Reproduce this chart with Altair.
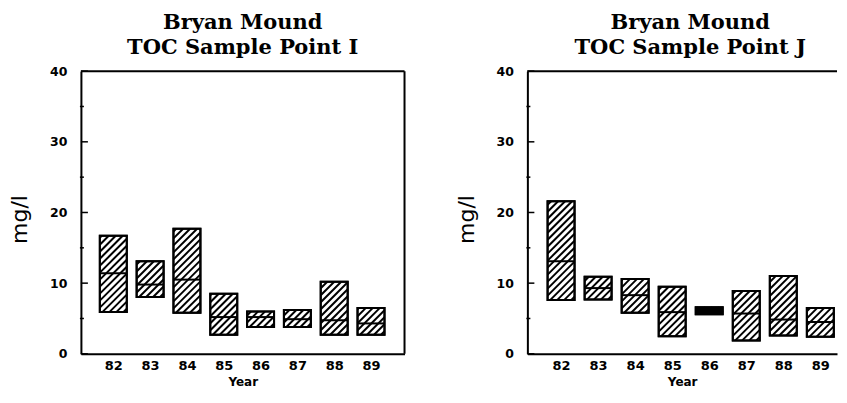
import altair as alt
import pandas as pd

years = [82, 83, 84, 85, 86, 87, 88, 89]

# Sample Point I
i_high = [16.7, 13.1, 17.7, 8.5, 6.0, 6.2, 10.2, 6.5]
i_med = [11.4, 9.8, 10.5, 5.2, 5.2, 4.9, 4.75, 4.3]
i_low = [5.9, 8.05, 5.8, 2.7, 3.8, 3.8, 2.7, 2.7]

# Sample Point J
j_high = [21.6, 10.9, 10.6, 9.5, 6.6, 8.9, 11.0, 6.5]
j_med = [13.1, 9.3, 8.3, 5.9, 6.1, 5.7, 4.85, 4.5]
j_low = [7.6, 7.7, 5.8, 2.5, 5.6, 1.9, 2.6, 2.4]

y_major = [0, 10, 20, 30, 40]
y_minor = [5, 15, 25, 35]

Y_DOMAIN = [0, 40]
PLOT_H = 283
BOX_PX = 27.0
HATCH_STEP = 7.0
LABEL_FONT = "DejaVu Sans"


def panel(title_lines, high, med, low, x_domain, width, title_dx, right_border):
    df = pd.DataFrame({"year": years, "low": low, "med": med, "high": high})
    kx = width / (x_domain[1] - x_domain[0])
    ky = PLOT_H / (Y_DOMAIN[1] - Y_DOMAIN[0])
    half = BOX_PX / 2 / kx

    xs = alt.Scale(domain=x_domain, nice=False, zero=False)
    ys = alt.Scale(domain=Y_DOMAIN, nice=False, zero=False)
    x_axis = alt.Axis(values=years, format="d", ticks=False, tickSize=0,
                      grid=False, domainColor="black", domainWidth=2,
                      labelFont=LABEL_FONT, labelFontWeight="bold",
                      labelFontSize=13, labelColor="black", labelPadding=6,
                      titleFont=LABEL_FONT, titleFontWeight="bold",
                      titleFontSize=12, titleColor="black", titlePadding=4)
    y_axis = alt.Axis(values=y_major, format="d", ticks=False, tickSize=0,
                      grid=False, domainColor="black", domainWidth=2,
                      labelFont=LABEL_FONT, labelFontWeight="bold",
                      labelFontSize=12.5, labelColor="black", labelPadding=14,
                      titleFont=LABEL_FONT, titleFontWeight="normal",
                      titleFontSize=22, titleColor="black", titlePadding=18,
                      titleY=148)

    base = alt.Chart(df).transform_calculate(
        xl=f"datum.year - {half}", xr=f"datum.year + {half}"
    )

    boxes = base.mark_rect(stroke="black", strokeWidth=2).encode(
        x=alt.X("xl:Q", scale=xs, axis=x_axis, title="Year"),
        x2="xr:Q",
        y=alt.Y("low:Q", scale=ys, axis=y_axis, title="mg/l"),
        y2="high:Q",
        fill=alt.condition(f"(datum.high - datum.low) * {ky} < 9",
                           alt.value("black"), alt.value("white")),
    )

    hatch = base.transform_calculate(
        H=f"(datum.high - datum.low) * {ky}",
    ).transform_calculate(
        seq=f"sequence(0, ceil((datum.H + {BOX_PX}) / {HATCH_STEP}))"
    ).transform_flatten(["seq"], as_=["k"]).transform_calculate(
        c=f"-{BOX_PX} + (datum.k + 0.5) * {HATCH_STEP}"
    ).transform_calculate(
        u0="max(0, -datum.c)", u1=f"min({BOX_PX}, datum.H - datum.c)"
    ).transform_filter("datum.u1 > datum.u0 + 0.3").transform_calculate(
        hx1=f"datum.xl + datum.u0 / {kx}",
        hx2=f"datum.xl + datum.u1 / {kx}",
        hy1=f"datum.low + (datum.u0 + datum.c) / {ky}",
        hy2=f"datum.low + (datum.u1 + datum.c) / {ky}",
    ).mark_rule(color="black", strokeWidth=2).encode(
        x=alt.X("hx1:Q", scale=xs, title="Year"),
        x2="hx2:Q",
        y=alt.Y("hy1:Q", scale=ys, title="mg/l"),
        y2="hy2:Q",
    )

    outline = base.mark_rect(filled=False, stroke="black", strokeWidth=2).encode(
        x=alt.X("xl:Q", scale=xs, title="Year"),
        x2="xr:Q",
        y=alt.Y("low:Q", scale=ys, title="mg/l"),
        y2="high:Q",
    )

    medians = base.mark_rule(color="black", strokeWidth=2).encode(
        x=alt.X("xl:Q", scale=xs, title="Year"),
        x2="xr:Q",
        y=alt.Y("med:Q", scale=ys, title="mg/l"),
    )

    major = alt.Chart(pd.DataFrame({"v": y_major})).mark_rule(
        color="black", strokeWidth=1.5
    ).encode(y=alt.Y("v:Q", scale=ys, title="mg/l"), x=alt.value(0), x2=alt.value(7))
    minor = alt.Chart(pd.DataFrame({"v": y_minor})).mark_rule(
        color="black", strokeWidth=1.5
    ).encode(y=alt.Y("v:Q", scale=ys, title="mg/l"), x=alt.value(-1), x2=alt.value(3))

    top = alt.Chart(pd.DataFrame({"a": [0]})).mark_rule(color="black", strokeWidth=2).encode(
        y=alt.datum(Y_DOMAIN[1], scale=ys),
        x=alt.datum(x_domain[0], scale=xs),
        x2=alt.datum(x_domain[1]),
    )
    layers = [boxes, hatch, outline, medians, major, minor, top]
    if right_border:
        right = alt.Chart(pd.DataFrame({"a": [0]})).mark_rule(color="black", strokeWidth=2).encode(
            x=alt.datum(x_domain[1], scale=xs),
            y=alt.datum(Y_DOMAIN[0], scale=ys),
            y2=alt.datum(Y_DOMAIN[1]),
        )
        layers.append(right)

    return alt.layer(*layers).properties(
        width=width,
        height=PLOT_H,
        title=alt.TitleParams(
            title_lines, font="DejaVu Serif", fontSize=21, fontWeight="bold",
            lineHeight=25, color="black", anchor="middle", offset=7, dx=title_dx,
        ),
        view=alt.ViewBackground(stroke="transparent"),
    )


left = panel(["Bryan Mound", "TOC Sample Point I"], i_high, i_med, i_low,
             [81.12, 89.91], 324, 0, True)
right = panel(["Bryan Mound", "TOC Sample Point J"], j_high, j_med, j_low,
              [81.09, 89.45], 310, 8, False)

chart = alt.hconcat(left, right, spacing=48).properties(
    padding={"left": 0, "top": 3, "right": 0, "bottom": 0},
    background="white",
).configure_view(stroke="transparent")

chart.save("out.html", embed_options={"renderer": "svg", "actions": False})
